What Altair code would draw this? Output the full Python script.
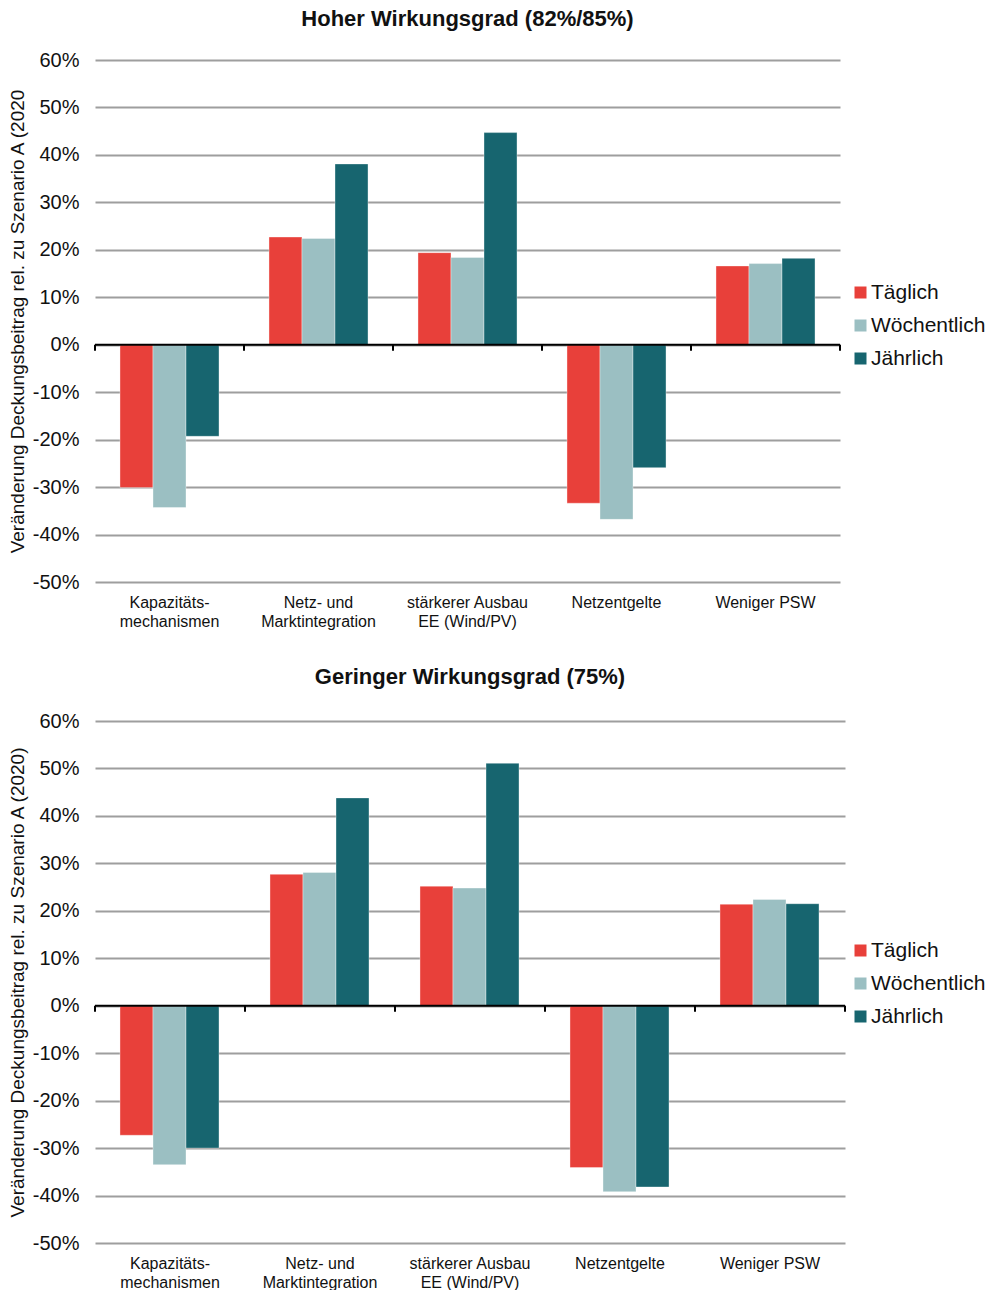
import altair as alt
import pandas as pd

categories = ["Kapazitäts-|mechanismen", "Netz- und|Marktintegration", "stärkerer Ausbau|EE (Wind/PV)", "Netzentgelte", "Weniger PSW"]
series = ["Täglich", "Wöchentlich", "Jährlich"]
colors = ["#E8403A", "#9BBFC2", "#17656F"]

top_taeglich = [-30.1, 22.7, 19.4, -33.4, 16.6]
top_woechentlich = [-34.3, 22.4, 18.4, -36.8, 17.1]
top_jaehrlich = [-19.3, 38.1, 44.7, -25.9, 18.2]

bot_taeglich = [-27.3, 27.7, 25.2, -34.1, 21.4]
bot_woechentlich = [-33.5, 28.1, 24.8, -39.2, 22.4]
bot_jaehrlich = [-30.0, 43.8, 51.1, -38.2, 21.5]

y_ticks = [-50, -40, -30, -20, -10, 0, 10, 20, 30, 40, 50, 60]

FONT = "Liberation Sans"


def make_df(a, b, c):
    rows = []
    for vals, s in zip([a, b, c], series):
        for cat, v in zip(categories, vals):
            rows.append({"cat": cat, "serie": s, "val": v / 100.0})
    return pd.DataFrame(rows)


def panel(df, title, ytitle, width, legend_y, title_offset):
    bars = alt.Chart(df).mark_bar(stroke="white", strokeWidth=0.6, strokeOpacity=0.6).encode(
        x=alt.X("cat:N", sort=categories, title=None,
                scale=alt.Scale(paddingInner=0, paddingOuter=0),
                axis=alt.Axis(labelAngle=0, ticks=False, domain=False, grid=False,
                              labelExpr="split(datum.label, '|')",
                              labelFont=FONT, labelFontSize=16, labelColor="#111",
                              labelPadding=12, labelLineHeight=19, labelLimit=200)),
        xOffset=alt.XOffset("serie:N", sort=series,
                            scale=alt.Scale(paddingInner=0, paddingOuter=0.757)),
        y=alt.Y("val:Q", title=ytitle,
                scale=alt.Scale(domain=[-0.5, 0.6], nice=False, zero=False),
                axis=alt.Axis(values=[t / 100 for t in y_ticks],
                              labelExpr="(datum.value < 0 ? '-' : '') + format(abs(datum.value), '.0%')",
                              ticks=False, domain=False, grid=True,
                              gridColor="#9e9e9e", gridWidth=2.2,
                              labelFont=FONT, labelFontSize=20, labelColor="#111",
                              labelPadding=16,
                              titleFont=FONT, titleFontSize=19, titleFontWeight="normal",
                              titleColor="#111", titlePadding=5)),
        color=alt.Color("serie:N", sort=series,
                        scale=alt.Scale(domain=series, range=colors),
                        legend=alt.Legend(title=None, orient="none",
                                          legendX=755, legendY=legend_y,
                                          symbolType="square", symbolSize=144,
                                          symbolStrokeWidth=0, symbolOpacity=1,
                                          labelFont=FONT, labelFontSize=21,
                                          labelColor="#111", rowPadding=11,
                                          labelOffset=0, padding=0)),
    )
    zero = alt.Chart(pd.DataFrame({"v": [0.0]})).mark_rule(color="black", strokeWidth=2).encode(
        y=alt.Y("v:Q")
    )
    tick_df = pd.DataFrame({"cat": categories + [categories[-1]],
                            "pos": [0] * len(categories) + [1],
                            "v": [0.0] * (len(categories) + 1)})
    ticks_start = alt.Chart(tick_df[tick_df.pos == 0]).mark_rule(
        color="black", strokeWidth=2, y2Offset=6).encode(
        x=alt.X("cat:N", sort=categories, bandPosition=0),
        y=alt.Y("v:Q"), y2=alt.Y2("v")
    )
    ticks_end = alt.Chart(tick_df[tick_df.pos == 1]).mark_rule(
        color="black", strokeWidth=2, y2Offset=6).encode(
        x=alt.X("cat:N", sort=categories, bandPosition=1),
        y=alt.Y("v:Q"), y2=alt.Y2("v")
    )
    return alt.layer(bars, zero, ticks_start, ticks_end).properties(
        width=width, height=522,
        title=alt.TitleParams(title, font=FONT, fontSize=22, fontWeight="bold",
                              color="#111", offset=title_offset, anchor="middle")
    )


top = panel(make_df(top_taeglich, top_woechentlich, top_jaehrlich),
            "Hoher Wirkungsgrad (82%/85%)",
            "Veränderung Deckungsbeitrag rel. zu Szenario A (2020", 745, 222, 19)
bottom = panel(make_df(bot_taeglich, bot_woechentlich, bot_jaehrlich),
               "Geringer Wirkungsgrad (75%)",
               "Veränderung Deckungsbeitrag rel. zu Szenario A (2020)", 750, 219, 22)

chart = alt.vconcat(top, bottom, spacing=37).resolve_legend(color="independent").resolve_scale(
    color="independent").properties(
    background="white",
    padding={"left": 0, "top": 0, "right": 0, "bottom": 0}).configure_view(
    stroke="transparent", strokeWidth=0).configure_axisX(grid=False)

chart.save("out.html", embed_options={"renderer": "svg", "actions": False})
